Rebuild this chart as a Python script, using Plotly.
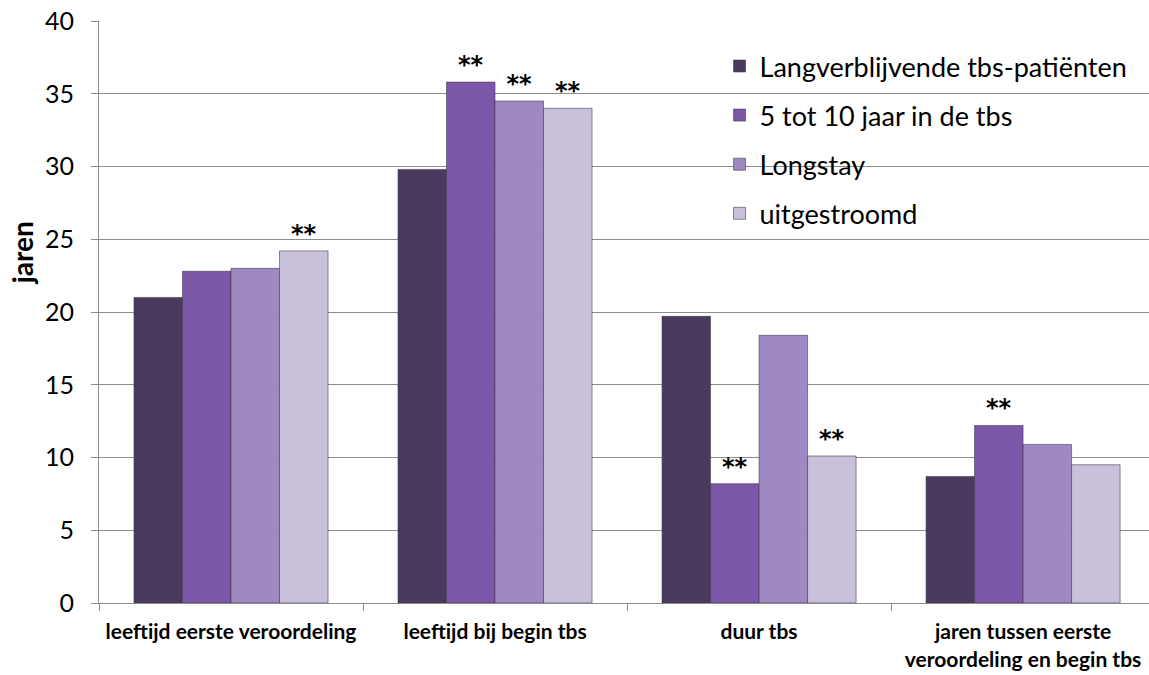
import plotly.graph_objects as go

categories = [
    "leeftijd eerste veroordeling",
    "leeftijd bij begin tbs",
    "duur tbs",
    "jaren tussen eerste<br>veroordeling en begin tbs",
]
series_names = [
    "Langverblijvende tbs-patiënten",
    "5 tot 10 jaar in de tbs",
    "Longstay",
    "uitgestroomd",
]
langverblijvend = [21.0, 29.8, 19.7, 8.7]
vijf_tot_tien = [22.8, 35.8, 8.2, 12.2]
longstay = [23.0, 34.5, 18.4, 10.9]
uitgestroomd = [24.2, 34.0, 10.1, 9.5]
# significance markers per bar
stars_langverblijvend = ["", "", "", ""]
stars_vijf_tot_tien = ["", "**", "**", "**"]
stars_longstay = ["", "**", "", ""]
stars_uitgestroomd = ["**", "**", "**", ""]

_COLOURS = ["#4A3A5E", "#7B57A8", "#9E89C2", "#C9C0DB"]
_FONT = "Lato, Open Sans, sans-serif"
_AXIS = "#8C8C8C"

series = [
    (series_names[0], langverblijvend, stars_langverblijvend),
    (series_names[1], vijf_tot_tien, stars_vijf_tot_tien),
    (series_names[2], longstay, stars_longstay),
    (series_names[3], uitgestroomd, stars_uitgestroomd),
]

fig = go.Figure()
for i, ((name, values, stars), colour) in enumerate(zip(series, _COLOURS)):
    fig.add_trace(
        go.Bar(
            name=name,
            legendgroup=f"g{i}",
            x=categories,
            y=values,
            text=stars,
            textposition="outside",
            textfont={"size": 24, "color": "black", "family": "DejaVu Sans", "weight": "bold"},
            cliponaxis=False,
            marker={"color": colour, "line": {"color": "rgba(60,50,70,0.55)", "width": 1}},
        )
    )

fig.add_annotation(
    text="<b>jaren</b>",
    xref="paper",
    yref="paper",
    x=-0.0733,
    y=0.601,
    xanchor="center",
    yanchor="middle",
    textangle=-90,
    showarrow=False,
    font={"size": 28, "color": "black", "family": _FONT},
)

fig.update_layout(
    width=1149,
    height=675,
    margin={"l": 99, "r": 0, "t": 21, "b": 72},
    paper_bgcolor="white",
    plot_bgcolor="white",
    font={"family": _FONT, "color": "black"},
    barmode="group",
    bargap=0.265,
    bargroupgap=0,
    uniformtext={"mode": "show", "minsize": 10},
    legend={
        "x": 0.591,
        "y": 0.964,
        "xanchor": "left",
        "yanchor": "top",
        "bgcolor": "rgba(0,0,0,0)",
        "font": {"size": 27, "family": _FONT},
        "tracegroupgap": 11,
        "itemwidth": 30,
    },
    xaxis={
        "range": [-0.5, 3.477],
        "showline": True,
        "linecolor": _AXIS,
        "ticks": "outside",
        "tickson": "boundaries",
        "ticklen": 7,
        "tickcolor": _AXIS,
        "ticklabelstandoff": 10,
        "ticklabeloverflow": "allow",
        "tickfont": {"size": 21, "family": _FONT, "weight": "bold"},
    },
    yaxis={
        "range": [0, 40],
        "dtick": 5,
        "showgrid": True,
        "gridcolor": _AXIS,
        "showline": True,
        "linecolor": _AXIS,
        "ticks": "outside",
        "ticklen": 7,
        "tickcolor": _AXIS,
        "ticklabelstandoff": 12,
        "ticklabeloverflow": "allow",
        "tickfont": {"size": 25, "family": _FONT},
        "zeroline": False,
    },
)

fig.write_html(
    "out.html",
    config={"displayModeBar": False},
    post_script="document.body.style.margin='0';document.body.style.overflow='hidden';",
)
